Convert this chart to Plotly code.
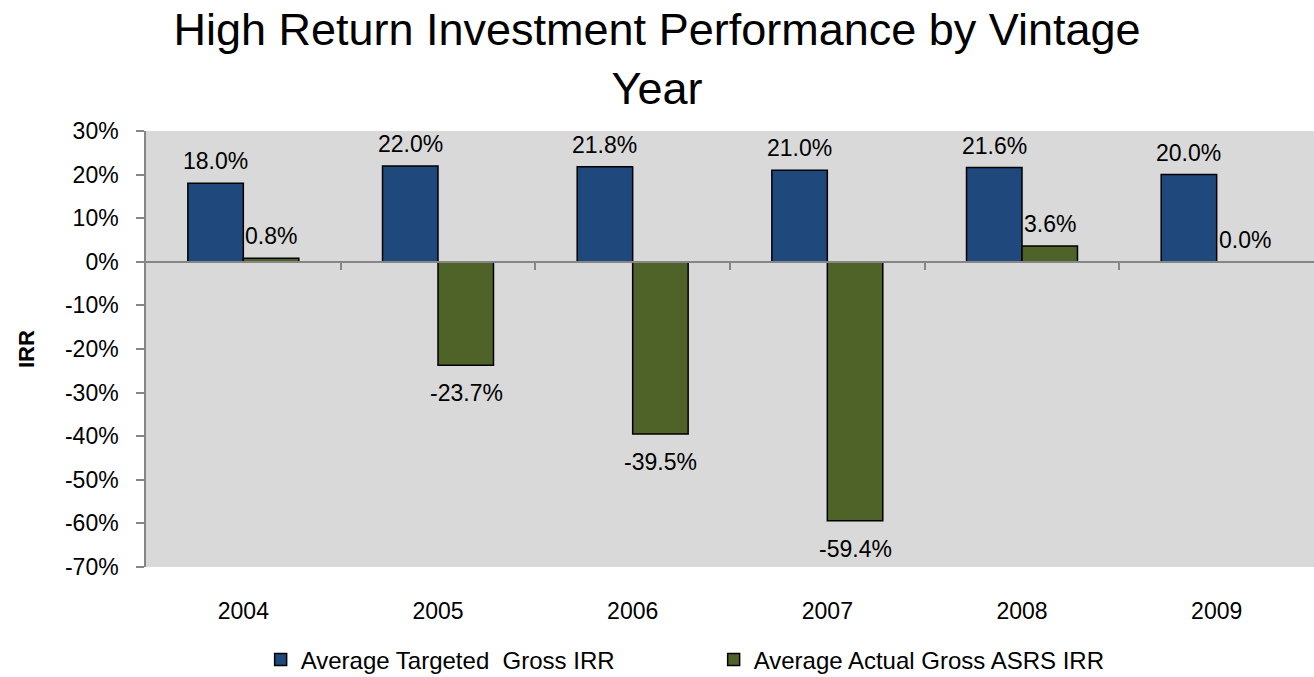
import plotly.graph_objects as go

years = ["2004", "2005", "2006", "2007", "2008", "2009"]
targeted = [18.0, 22.0, 21.8, 21.0, 21.6, 20.0]
actual = [0.8, -23.7, -39.5, -59.4, 3.6, 0.0]
series_names = ["Average Targeted  Gross IRR", "Average Actual Gross ASRS IRR"]
colors = ["#1F497D", "#4F6228"]
y_min, y_max = -70, 30
y_ticks = list(range(y_min, y_max + 1, 10))
y_ticktext = [f"{v}%" for v in y_ticks]

FONT = "Liberation Sans, Arial, sans-serif"

W, H = 1314, 677
M_T, M_L = 131, 146
PLOT_BOTTOM_PX = 567
paper_h = H - M_T
d0 = (H - PLOT_BOTTOM_PX) / paper_h  # y-domain bottom (paper fraction)

fig = go.Figure()
for vals, name, col in zip([targeted, actual], series_names, colors):
    fig.add_trace(go.Bar(
        x=years, y=vals, name=name,
        marker=dict(color=col, line=dict(color="black", width=1.5)),
    ))

n = len(years)
# invisible helper trace so the zero-line tick axis (x2) is drawn
fig.add_trace(go.Scatter(x=[0], y=[0], xaxis="x2", yaxis="y", mode="markers",
                         marker=dict(opacity=0), showlegend=False,
                         hoverinfo="skip"))

annotations = []
for vals, shift in [(targeted, -28), (actual, 28)]:
    for i, v in enumerate(vals):
        annotations.append(dict(
            x=i, y=v, xref="x", yref="y", text=f"{v:.1f}%",
            showarrow=False, xshift=shift,
            yanchor="middle", yshift=22 if v >= 0 else -28,
            font=dict(size=23, color="black", family=FONT),
        ))
annotations.append(dict(
    x=-0.1027, y=(d0 + 1) / 2, xref="paper", yref="paper", text="<b>IRR</b>",
    textangle=-90, showarrow=False, xanchor="center", yanchor="middle",
    font=dict(size=22, color="black", family=FONT),
))

fig.update_layout(
    width=W, height=H,
    margin=dict(l=M_L, r=0, t=M_T, b=0, autoexpand=False),
    paper_bgcolor="white", plot_bgcolor="#D9D9D9",
    barmode="group", bargap=0.43, bargroupgap=0,
    font=dict(family=FONT, color="black"),
    title=dict(text="High Return Investment Performance by Vintage<br>Year",
               x=0.5, xref="container", xanchor="center",
               y=0.933, yref="container", yanchor="middle",
               font=dict(size=45, color="black", family=FONT)),
    xaxis=dict(type="category", range=[-0.5, n - 0.5], showline=False,
               ticks="", showgrid=False, automargin=False,
               tickfont=dict(size=23, color="black"), ticklabelstandoff=28,
               zeroline=False),
    xaxis2=dict(overlaying="x", anchor="free", automargin=False,
                position=d0 + (1 - d0) * (0 - y_min) / (y_max - y_min),
                range=[-0.5, n - 0.5],
                tickmode="array",
                tickvals=[i + 0.5 for i in range(n - 1)],
                showticklabels=False, ticks="outside", ticklen=7,
                tickcolor="#868686", tickwidth=1.5,
                showline=True, linecolor="#868686", linewidth=1.5,
                showgrid=False, zeroline=False, side="bottom"),
    yaxis=dict(domain=[d0, 1], range=[y_min, y_max], tickmode="array",
               tickvals=y_ticks, ticktext=y_ticktext, automargin=False,
               showgrid=False, zeroline=False,
               showline=True, linecolor="#868686", linewidth=1.5,
               ticks="outside", ticklen=8, tickcolor="#868686", tickwidth=1.5,
               tickfont=dict(size=23, color="black"), ticklabelstandoff=13),
    legend=dict(orientation="h", x=0.486, xanchor="center",
                y=(H - 660) / paper_h, yanchor="middle",
                font=dict(size=24, color="black", family=FONT),
                entrywidth=408, entrywidthmode="pixels",
                bgcolor="rgba(0,0,0,0)"),
    annotations=annotations,
)

fig.write_html("out.html")
